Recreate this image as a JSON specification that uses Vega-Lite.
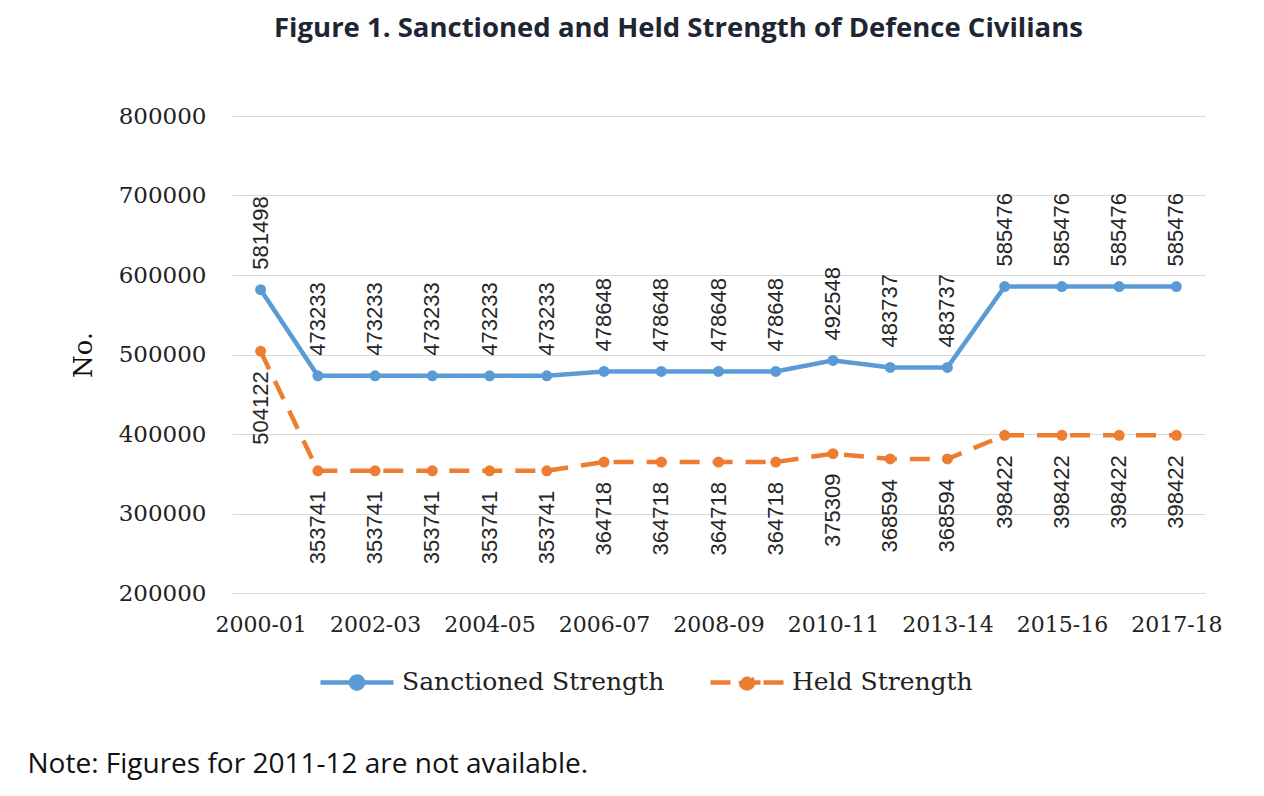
{
  "$schema": "https://vega.github.io/schema/vega-lite/v6.json",
  "width": 973,
  "height": 477,
  "autosize": {"type": "none"},
  "padding": {"left": 232, "top": 116, "right": 59, "bottom": 203},
  "background": "white",
  "config": {"view": {"stroke": null}},
  "title": {
    "text": "Figure 1. Sanctioned and Held Strength of Defence Civilians",
    "font": "Open Sans",
    "fontSize": 27.5,
    "fontWeight": "bold",
    "color": "#1e2533",
    "anchor": "middle",
    "frame": "group",
    "dx": -40,
    "offset": 63
  },
  "data": {
    "values": [
      {"year": "2000-01", "series": "Sanctioned Strength", "value": 581498},
      {"year": "2001-02", "series": "Sanctioned Strength", "value": 473233},
      {"year": "2002-03", "series": "Sanctioned Strength", "value": 473233},
      {"year": "2003-04", "series": "Sanctioned Strength", "value": 473233},
      {"year": "2004-05", "series": "Sanctioned Strength", "value": 473233},
      {"year": "2005-06", "series": "Sanctioned Strength", "value": 473233},
      {"year": "2006-07", "series": "Sanctioned Strength", "value": 478648},
      {"year": "2007-08", "series": "Sanctioned Strength", "value": 478648},
      {"year": "2008-09", "series": "Sanctioned Strength", "value": 478648},
      {"year": "2009-10", "series": "Sanctioned Strength", "value": 478648},
      {"year": "2010-11", "series": "Sanctioned Strength", "value": 492548},
      {"year": "2012-13", "series": "Sanctioned Strength", "value": 483737},
      {"year": "2013-14", "series": "Sanctioned Strength", "value": 483737},
      {"year": "2014-15", "series": "Sanctioned Strength", "value": 585476},
      {"year": "2015-16", "series": "Sanctioned Strength", "value": 585476},
      {"year": "2016-17", "series": "Sanctioned Strength", "value": 585476},
      {"year": "2017-18", "series": "Sanctioned Strength", "value": 585476},
      {"year": "2000-01", "series": "Held Strength", "value": 504122},
      {"year": "2001-02", "series": "Held Strength", "value": 353741},
      {"year": "2002-03", "series": "Held Strength", "value": 353741},
      {"year": "2003-04", "series": "Held Strength", "value": 353741},
      {"year": "2004-05", "series": "Held Strength", "value": 353741},
      {"year": "2005-06", "series": "Held Strength", "value": 353741},
      {"year": "2006-07", "series": "Held Strength", "value": 364718},
      {"year": "2007-08", "series": "Held Strength", "value": 364718},
      {"year": "2008-09", "series": "Held Strength", "value": 364718},
      {"year": "2009-10", "series": "Held Strength", "value": 364718},
      {"year": "2010-11", "series": "Held Strength", "value": 375309},
      {"year": "2012-13", "series": "Held Strength", "value": 368594},
      {"year": "2013-14", "series": "Held Strength", "value": 368594},
      {"year": "2014-15", "series": "Held Strength", "value": 398422},
      {"year": "2015-16", "series": "Held Strength", "value": 398422},
      {"year": "2016-17", "series": "Held Strength", "value": 398422},
      {"year": "2017-18", "series": "Held Strength", "value": 398422}
    ]
  },
  "encoding": {
    "x": {
      "field": "year",
      "type": "ordinal",
      "sort": null,
      "scale": {"type": "point", "padding": 0.5},
      "axis": {
        "values": ["2000-01", "2002-03", "2004-05", "2006-07", "2008-09", "2010-11", "2013-14", "2015-16", "2017-18"],
        "labelAngle": 0,
        "ticks": false,
        "domain": false,
        "grid": false,
        "labelPadding": 21,
        "labelFont": "DejaVu Serif",
        "labelFontSize": 22,
        "labelColor": "#222222",
        "title": "Note: Figures for 2011-12 are not available.",
        "titleFont": "Open Sans",
        "titleFontSize": 28,
        "titleFontWeight": "normal",
        "titleColor": "#111111",
        "titleX": -205,
        "titleY": 179,
        "titleAlign": "left",
        "titleBaseline": "alphabetic"
      }
    },
    "y": {
      "field": "value",
      "type": "quantitative",
      "scale": {"domain": [200000, 800000], "nice": false, "zero": false},
      "axis": {
        "values": [200000, 300000, 400000, 500000, 600000, 700000, 800000],
        "format": "d",
        "grid": true,
        "gridColor": "#d9d9d9",
        "gridWidth": 1.2,
        "domain": false,
        "ticks": false,
        "labelPadding": 26,
        "labelFont": "DejaVu Serif",
        "labelFontSize": 23,
        "labelColor": "#222222",
        "title": "No.",
        "titleFont": "DejaVu Serif",
        "titleFontSize": 26,
        "titleFontWeight": "normal",
        "titleColor": "#111111",
        "titlePadding": 22
      }
    }
  },
  "layer": [
    {
      "mark": {"type": "line", "strokeWidth": 4.5, "point": {"filled": true, "size": 120}},
      "encoding": {
        "color": {
          "field": "series",
          "type": "nominal",
          "sort": ["Sanctioned Strength", "Held Strength"],
          "scale": {"domain": ["Sanctioned Strength", "Held Strength"], "range": ["#5B9BD5", "#ED7D31"]},
          "legend": {
            "orient": "none",
            "legendX": 86,
            "legendY": 527,
            "direction": "horizontal",
            "title": null,
            "symbolType": "M-1,0L-0.178,0M-0.178,0L0.452,0M0.452,0L1,0M0.165,0A0.165,0.165,0,1,1,-0.165,0A0.165,0.165,0,1,1,0.165,0Z",
            "symbolSize": 5329,
            "symbolStrokeWidth": 4.5,
            "labelFont": "DejaVu Serif",
            "labelFontSize": 25,
            "labelColor": "#222222",
            "labelOffset": 6,
            "labelLimit": 400,
            "columnPadding": 36,
            "encode": {"symbols": {"update": {"fill": {"scale": "color", "field": "value"}}}}
          }
        },
        "strokeDash": {
          "field": "series",
          "type": "nominal",
          "sort": ["Sanctioned Strength", "Held Strength"],
          "scale": {"domain": ["Sanctioned Strength", "Held Strength"], "range": [[1, 0], [20, 13]]},
          "legend": {
            "orient": "none",
            "legendX": 86,
            "legendY": 527,
            "direction": "horizontal",
            "title": null,
            "symbolType": "M-1,0L-0.178,0M-0.178,0L0.452,0M0.452,0L1,0M0.165,0A0.165,0.165,0,1,1,-0.165,0A0.165,0.165,0,1,1,0.165,0Z",
            "symbolSize": 5329,
            "symbolStrokeWidth": 4.5,
            "labelFont": "DejaVu Serif",
            "labelFontSize": 25,
            "labelColor": "#222222",
            "labelOffset": 6,
            "labelLimit": 400,
            "columnPadding": 36,
            "encode": {"symbols": {"update": {"fill": {"scale": "color", "field": "value"}}}}
          }
        }
      }
    },
    {
      "transform": [{"filter": "datum.series === 'Sanctioned Strength'"}],
      "mark": {"type": "text", "angle": 270, "align": "left", "baseline": "middle", "dx": 20, "font": "Liberation Sans", "fontSize": 22, "color": "#262626"},
      "encoding": {"text": {"field": "value", "type": "quantitative", "format": "d"}}
    },
    {
      "transform": [{"filter": "datum.series === 'Held Strength'"}],
      "mark": {"type": "text", "angle": 270, "align": "right", "baseline": "middle", "dx": -20, "font": "Liberation Sans", "fontSize": 22, "color": "#262626"},
      "encoding": {"text": {"field": "value", "type": "quantitative", "format": "d"}}
    }
  ]
}
